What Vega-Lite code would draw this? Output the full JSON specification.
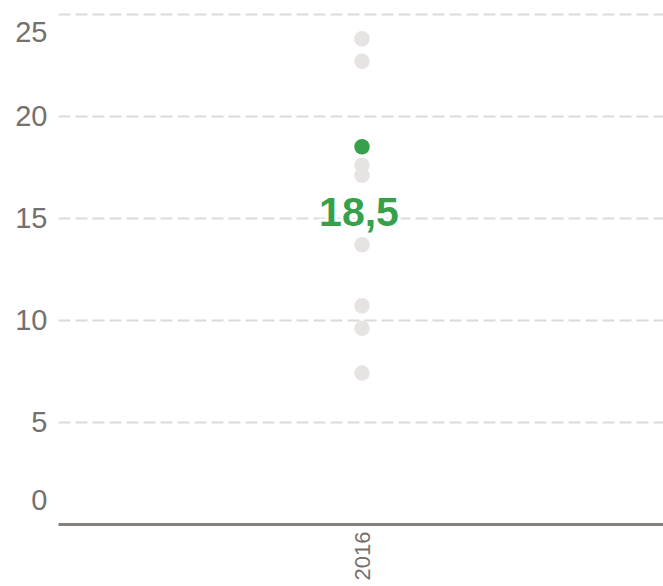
{
  "$schema": "https://vega.github.io/schema/vega-lite/v6.json",
  "width": 608,
  "height": 524,
  "autosize": "none",
  "padding": {"left": 58, "top": 0, "right": 0, "bottom": 62},
  "background": "white",
  "config": {"view": {"stroke": null}},
  "data": {
    "values": [
      {"year": "2016", "value": 23.8, "group": "other", "label": ""},
      {"year": "2016", "value": 22.7, "group": "other", "label": ""},
      {"year": "2016", "value": 17.6, "group": "other", "label": ""},
      {"year": "2016", "value": 17.1, "group": "other", "label": ""},
      {"year": "2016", "value": 13.7, "group": "other", "label": ""},
      {"year": "2016", "value": 10.7, "group": "other", "label": ""},
      {"year": "2016", "value": 9.6, "group": "other", "label": ""},
      {"year": "2016", "value": 7.4, "group": "other", "label": ""},
      {"year": "2016", "value": 18.5, "group": "highlight", "label": "18,5"}
    ]
  },
  "encoding": {
    "x": {
      "field": "year",
      "type": "nominal",
      "scale": {"type": "point", "padding": 0.5},
      "axis": {
        "title": null,
        "labelAngle": -90,
        "labelFontSize": 22,
        "labelFont": "Liberation Sans",
        "labelColor": "#75706e",
        "ticks": false,
        "domainColor": "#857f7d",
        "domainWidth": 3,
        "labelPadding": 7,
        "grid": false
      }
    },
    "y": {
      "field": "value",
      "type": "quantitative",
      "scale": {"domain": [0, 25.7], "nice": false, "zero": true},
      "axis": {
        "title": null,
        "values": [0, 5, 10, 15, 20, 25],
        "labelFontSize": 29,
        "labelFont": "Liberation Sans",
        "labelColor": "#75706e",
        "ticks": false,
        "domain": false,
        "labelPadding": 11,
        "labelOffset": {"condition": [{"test": "datum.value == 0", "value": -24}, {"test": "datum.value == 25", "value": 18}], "value": 0},
        "gridDash": [12, 5],
        "gridColor": "#dedad8",
        "gridWidth": 2,
        "gridOpacity": {"condition": {"test": "datum.value == 0", "value": 0}, "value": 1}
      }
    }
  },
  "layer": [
    {
      "mark": {"type": "circle", "opacity": 1, "size": 240},
      "encoding": {
        "color": {
          "field": "group",
          "type": "nominal",
          "scale": {"domain": ["other", "highlight"], "range": ["#e6e3e2", "#36a04b"]},
          "legend": null
        }
      }
    },
    {
      "transform": [{"filter": "datum.group == 'highlight'"}],
      "mark": {"type": "text", "fontSize": 41, "fontWeight": "bold", "font": "Liberation Sans", "dy": 67, "dx": -3, "align": "center", "baseline": "middle", "fill": "white", "stroke": "white", "strokeWidth": 6},
      "encoding": {"text": {"field": "label"}}
    },
    {
      "transform": [{"filter": "datum.group == 'highlight'"}],
      "mark": {"type": "text", "fontSize": 41, "fontWeight": "bold", "font": "Liberation Sans", "dy": 67, "dx": -3, "align": "center", "baseline": "middle", "color": "#36a04b"},
      "encoding": {"text": {"field": "label"}}
    }
  ]
}
